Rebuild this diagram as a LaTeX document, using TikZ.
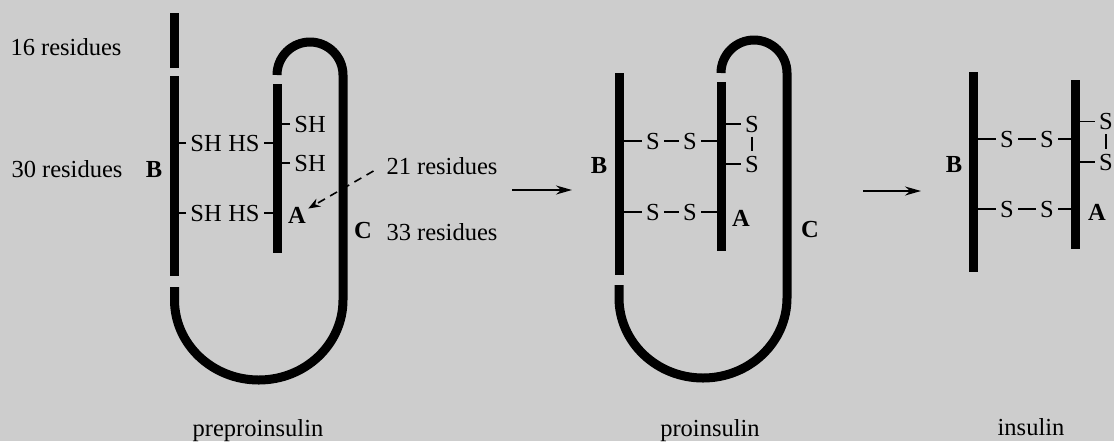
\documentclass[tikz,border=0pt]{standalone}
\usepackage{fontspec}
\setmainfont{Liberation Serif}
\usetikzlibrary{arrows.meta}
\definecolor{paper}{HTML}{CDCDCD}
\tikzset{
    lab/.style={
        font=\fontsize{12.25}{14}\selectfont, inner sep=2pt
    },
    chainname/.style={
        font=\fontsize{12.25}{14}\selectfont\bfseries, inner sep=1pt
    },
    chain/.style={line width=4.5pt, line cap=butt},
    bond/.style={line width=0.9pt}
}

\begin{document}
\begin{tikzpicture}[x=0.5pt,y=-0.5pt, line join=round]

\fill[paper] (0,0) rectangle (1114,441);
\useasboundingbox (0,0) rectangle (1114,441);

\def\loopr{33}
\def\urx{84.25}
\def\ury{80}

% preproinsulin
\coordinate (pb) at (174.5,0);
\coordinate (pa) at (277,0);

\node[lab] (sig) at (66,47) {16 residues};
\node[lab] (bres) at (67,169) {30 residues};
\node[lab] (ares) at (442,166) {21 residues};
\node[lab] (cres) at (442,232) {33 residues};
\node[chainname] (pB) at (154,170) {B};
\node[chainname] (pA) at (297,215) {A};
\node[chainname] (pC) at (363,230) {C};

\node[lab, anchor=west] (psh1) at (186,143) {SH};
\node[lab, anchor=east] (phs1) at (264,143) {HS};
\node[lab, anchor=west] (psh2) at (186,213) {SH};
\node[lab, anchor=east] (phs2) at (264,213) {HS};
\node[lab, anchor=west] (psh3) at (290,124) {SH};
\node[lab, anchor=west] (psh4) at (290,163) {SH};

\draw[bond] (psh1.west) -- (psh1.west -| pb);
\draw[bond] (phs1.east) -- (phs1.east -| pa);
\draw[bond] (psh2.west) -- (psh2.west -| pb);
\draw[bond] (phs2.east) -- (phs2.east -| pa);
\draw[bond] (psh3.west) -- (psh3.west -| pa);
\draw[bond] (psh4.west) -- (psh4.west -| pa);

\draw[chain] (174.5,13) -- (174.5,68);
\draw[chain] (174.5,76) -- (174.5,276);
\draw[chain] (277,84) -- (277,253);
\draw[chain] (174.5,287) -- (174.5,300)
  arc[start angle=180, end angle=0, x radius=\urx, y radius=\ury]
  -- (343,75) arc[start angle=0, end angle=-180, radius=\loopr];

\draw[line width=0.8pt, dash pattern=on 4pt off 3pt, shorten <=5pt,
  -{Stealth[length=6pt, width=4.5pt]}] (ares.west) -- (pA);

% step arrows
\coordinate (r1a) at (512,190);
\coordinate (r1b) at (572,190);
\coordinate (r2a) at (863,191);
\coordinate (r2b) at (921,191);
\draw[line width=1pt, -{Stealth[length=8pt, width=4.5pt]}] (r1a) -- (r1b);
\draw[line width=1pt, -{Stealth[length=8pt, width=4.5pt]}] (r2a) -- (r2b);

% proinsulin
\coordinate (qb) at (619,0);
\coordinate (qa) at (721,0);

\node[chainname] (qB) at (599,166) {B};
\node[chainname] (qA) at (741,218) {A};
\node[chainname] (qC) at (810,229) {C};

\node[lab] (qs1) at (653,141) {S};
\node[lab] (qs2) at (690,141) {S};
\node[lab] (qs3) at (653,212) {S};
\node[lab] (qs4) at (690,212) {S};
\node[lab] (qs5) at (752,124) {S};
\node[lab] (qs6) at (752,164) {S};

\draw[bond] (qs1.west) -- (qs1.west -| qb);
\draw[bond] (qs1) -- (qs2);
\draw[bond] (qs2.east) -- (qs2.east -| qa);
\draw[bond] (qs3.west) -- (qs3.west -| qb);
\draw[bond] (qs3) -- (qs4);
\draw[bond] (qs4.east) -- (qs4.east -| qa);
\draw[bond] (qs5.west) -- (qs5.west -| qa);
\draw[bond] (qs6.west) -- (qs6.west -| qa);
\draw[bond] (qs5) -- (qs6);

\draw[chain] (619,73) -- (619,275);
\draw[chain] (721,82) -- (721,251);
\draw[chain] (619,285) -- (619,298)
  arc[start angle=180, end angle=0, x radius=84, y radius=\ury]
  -- (787,73) arc[start angle=0, end angle=-180, radius=\loopr];

% insulin
\coordinate (ib) at (973,0);
\coordinate (ia) at (1075.5,0);

\node[chainname] (iB) at (954,165) {B};
\node[chainname] (iA) at (1097,212) {A};

\node[lab] (is1) at (1007,139) {S};
\node[lab] (is2) at (1047,139) {S};
\node[lab] (is3) at (1007,209) {S};
\node[lab] (is4) at (1047,209) {S};
\node[lab] (is5) at (1106,121.5) {S};
\node[lab] (is6) at (1106,162) {S};

\draw[bond] (is1.west) -- (is1.west -| ib);
\draw[bond] (is1) -- (is2);
\draw[bond] (is2.east) -- (is2.east -| ia);
\draw[bond] (is3.west) -- (is3.west -| ib);
\draw[bond] (is3) -- (is4);
\draw[bond] (is4.east) -- (is4.east -| ia);
\draw[bond] (is5.west) -- (is5.west -| ia);
\draw[bond] (is6.west) -- (is6.west -| ia);
\draw[bond] (is5) -- (is6);

\draw[chain] (973,72) -- (973,272);
\draw[chain] (1075.5,80) -- (1075.5,249);

% names of the stages
\node[lab, anchor=base] (prepro) at (258,436) {preproinsulin};
\node[lab, anchor=base] (pro) at (710,436) {proinsulin};
\node[lab, anchor=base] (ins) at (1031,435) {insulin};

\end{tikzpicture}
\end{document}
